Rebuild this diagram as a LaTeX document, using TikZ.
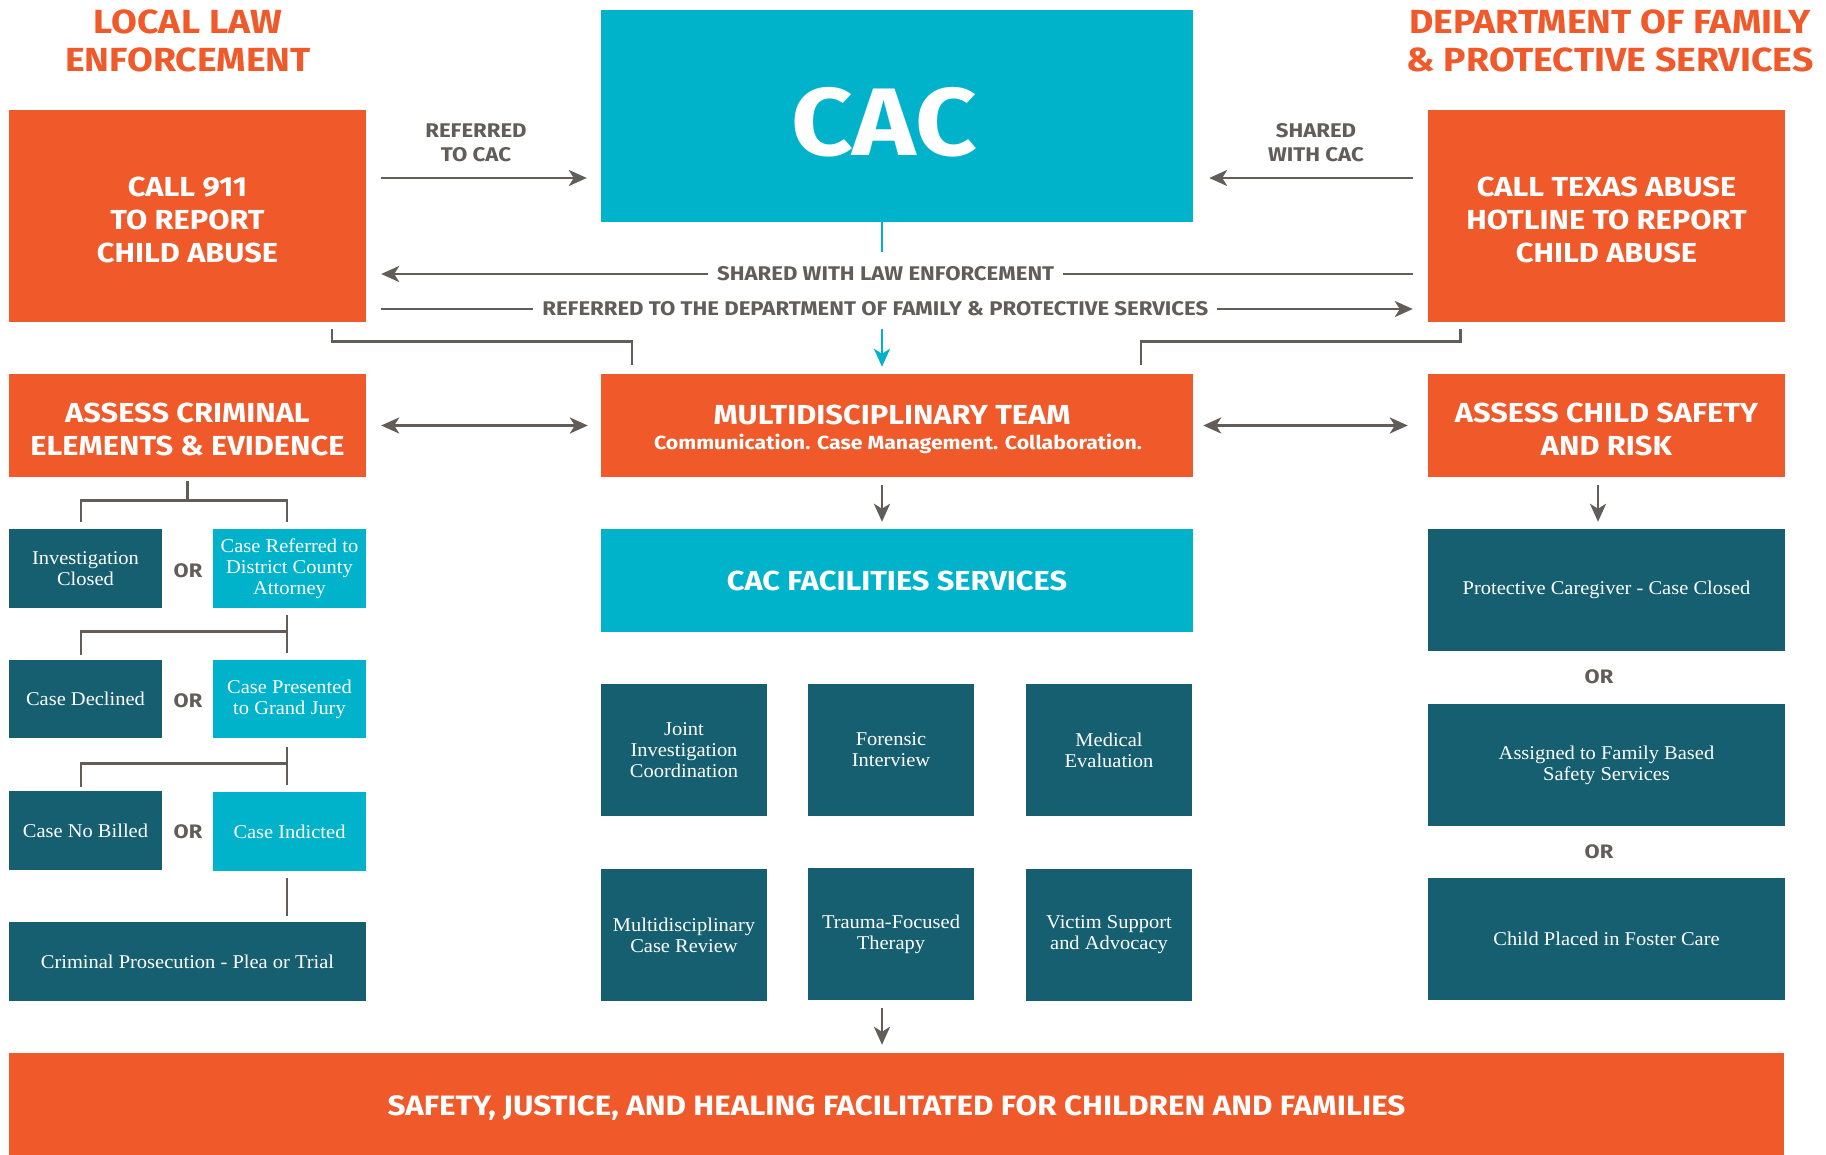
\documentclass[tikz,border=0pt]{standalone}
\usepackage{fontspec}
\usetikzlibrary{arrows.meta,calc}
\newfontfamily\din{Fira Sans}[FakeStretch=1.12]
\newfontfamily\slab{Liberation Serif}[FakeStretch=1.05]
\definecolor{corange}{HTML}{F05A2B}
\definecolor{clight}{HTML}{00B3CB}
\definecolor{cdark}{HTML}{155F70}
\definecolor{cgray}{HTML}{625D58}
\begin{document}
\begin{tikzpicture}[x=1pt,y=-1pt,
  bx/.style={rectangle, inner sep=0pt, text=white, align=center},
  obox/.style={bx, fill=corange, font=\din\bfseries\fontsize{27.5}{33}\selectfont},
  otxt/.style={text=white, align=center, inner sep=0pt, font=\din\bfseries\fontsize{27.5}{33}\selectfont},
  dbox/.style={bx, fill=cdark, font=\slab\fontsize{19.5}{21}\selectfont},
  lbox/.style={bx, fill=clight, font=\slab\fontsize{19.5}{21}\selectfont},
  hdr/.style={text=corange, align=center, inner sep=0pt, font=\din\bfseries\fontsize{33.4}{38}\selectfont},
  lbl/.style={text=cgray, align=center, inner sep=0pt, font=\din\bfseries\fontsize{19.8}{24}\selectfont},
  orlbl/.style={text=cgray, inner sep=0pt, font=\din\bfseries\fontsize{19.5}{21}\selectfont},
  ln/.style={draw=cgray, line width=2.8pt},
  arr/.style={ln, -{Stealth[length=18pt,width=16pt,inset=5pt]}},
  darr/.style={ln, {Stealth[length=18pt,width=16pt,inset=5pt]}-{Stealth[length=18pt,width=16pt,inset=5pt]}},
  tln/.style={draw=clight, line width=2.8pt},
  tarr/.style={tln, -{Stealth[length=18pt,width=16pt,inset=5pt]}},
]
\fill[white] (0,0) rectangle (1826,1155);
\useasboundingbox (0,0) rectangle (1826,1155);

% headers
\node[hdr] (hdL) at (188,40.5) {LOCAL LAW\\ENFORCEMENT};
\node[hdr] (hdR) at (1610,40.5) {DEPARTMENT OF FAMILY\\\& PROTECTIVE SERVICES};

% top row
\node[obox, minimum width=357, minimum height=212] (call) at (187.5,216) {};
\node[otxt] (callT) at (187.5,219.5) {CALL 911\\TO REPORT\\CHILD ABUSE};
\node[bx, fill=clight, minimum width=592, minimum height=212] (cac) at (897,116) {};
\node[text=white, inner sep=0pt, font=\din\bfseries\fontsize{96}{96}\selectfont] (cactext) at (884,122.5) {CAC};
\node[obox, minimum width=357, minimum height=212] (dfps) at (1606.5,216) {};
\node[otxt] (dfpsT) at (1606.5,219.5) {CALL TEXAS ABUSE\\HOTLINE TO REPORT\\CHILD ABUSE};

\node[lbl] (lref) at (476,143) {REFERRED\\TO CAC};
\node[lbl] (lsh) at (1316,143) {SHARED\\WITH CAC};

% second row
\node[obox, minimum width=357, minimum height=103] (crim) at (187.5,425.5) {};
\node[otxt] (crimT) at (187.5,429) {ASSESS CRIMINAL\\ELEMENTS \& EVIDENCE};
\node[obox, minimum width=592, minimum height=103] (mdt) at (897,425.5) {};
\node[otxt] (mdtT) at (892,414.5) {MULTIDISCIPLINARY TEAM};
\node[otxt, font=\din\bfseries\fontsize{19}{22}\selectfont] (mdtS) at (898,444) {Communication. Case Management. Collaboration.};
\node[obox, minimum width=357, minimum height=103] (safety) at (1606.5,425.5) {};
\node[otxt] (safetyT) at (1606.5,429) {ASSESS CHILD SAFETY\\AND RISK};

% left column
\node[dbox, minimum width=153, minimum height=79] (invc) at (85.5,568.5) {Investigation\\Closed};
\node[lbox, minimum width=153, minimum height=79] (caseref) at (289.5,568.5) {Case Referred to\\District County\\Attorney};
\node[dbox, minimum width=153, minimum height=78] (casedecl) at (85.5,699) {Case Declined};
\node[lbox, minimum width=153, minimum height=78] (casepres) at (289.5,699) {Case Presented\\to Grand Jury};
\node[dbox, minimum width=153, minimum height=79] (nobill) at (85.5,830.5) {Case No Billed};
\node[lbox, minimum width=153, minimum height=79] (caseind) at (289.5,831.5) {Case Indicted};
\node[dbox, minimum width=357, minimum height=79] (prosec) at (187.5,961.5) {Criminal Prosecution - Plea or Trial};
\node[orlbl] (or1) at (188,571) {OR};
\node[orlbl] (or2) at (188,701) {OR};
\node[orlbl] (or3) at (188,832) {OR};

% middle column
\node[bx, fill=clight, minimum width=592, minimum height=103, font=\din\bfseries\fontsize{27.5}{33}\selectfont] (fac) at (897,580.5) {CAC FACILITIES SERVICES};
\node[dbox, minimum width=166, minimum height=132] (joint) at (684,750) {Joint\\Investigation\\Coordination};
\node[dbox, minimum width=166, minimum height=132] (forensic) at (891,750) {Forensic\\Interview};
\node[dbox, minimum width=166, minimum height=132] (medical) at (1109,750) {Medical\\Evaluation};
\node[dbox, minimum width=166, minimum height=132] (mdreview) at (684,935) {Multidisciplinary\\Case Review};
\node[dbox, minimum width=166, minimum height=132] (trauma) at (891,934) {Trauma-Focused\\Therapy};
\node[dbox, minimum width=166, minimum height=132] (victim) at (1109,935) {Victim Support\\and Advocacy};

% right column
\node[dbox, minimum width=357, minimum height=122] (protect) at (1606.5,590) {Protective Caregiver - Case Closed};
\node[dbox, minimum width=357, minimum height=122] (assigned) at (1606.5,765) {Assigned to Family Based\\Safety Services};
\node[dbox, minimum width=357, minimum height=122] (foster) at (1606.5,939) {Child Placed in Foster Care};
\node[orlbl] (or4) at (1599,677) {OR};
\node[orlbl] (or5) at (1599,852) {OR};

% bottom
\node[obox, minimum width=1775, minimum height=102] (bottom) at (896.5,1104) {};
\node[otxt, font=\din\bfseries\fontsize{28}{33}\selectfont] (bottomT) at (896.5,1108.5) {SAFETY, JUSTICE, AND HEALING FACILITATED FOR CHILDREN AND FAMILIES};

% connectors top
\draw[arr] ([xshift=15,yshift=38]call.east) -- ([xshift=-14,yshift=-62]cac.west);
\draw[arr] ([xshift=-15,yshift=38]dfps.west) -- ([xshift=16,yshift=-62]cac.east);
\coordinate (stemend) at (882,252);
\draw[tln] ([xshift=-15]cac.south) -- (stemend);
\draw[arr] ([xshift=-15,yshift=-58]dfps.west) -- ([xshift=15,yshift=-58]call.east)
  node[lbl, fill=white, inner xsep=9pt, inner ysep=3pt, pos=0.511] (lsle) {SHARED WITH LAW ENFORCEMENT};
\draw[arr] ([xshift=15,yshift=-93]call.east) -- ([xshift=-15,yshift=-93]dfps.west)
  node[lbl, fill=white, inner xsep=9pt, inner ysep=3pt, pos=0.479] (lrdf) {REFERRED TO THE DEPARTMENT OF FAMILY \& PROTECTIVE SERVICES};
\draw[ln] ([xshift=144.5,yshift=-7]call.south) -- ++(0,12) -| ([xshift=-265,yshift=9]mdt.north);
\draw[ln] ([xshift=-146,yshift=-7]dfps.south) -- ++(0,12) -| ([xshift=244,yshift=9]mdt.north);
\coordinate (tstart) at (882,329);
\draw[tarr] (tstart) -- ([xshift=-15,yshift=7]mdt.north);

% second row arrows
\draw[darr] ([xshift=15]crim.east) -- ([xshift=-13]mdt.west);
\draw[darr] ([xshift=10]mdt.east) -- ([xshift=-20]safety.west);

% left tree
\coordinate (t1) at ([yshift=-23]crim.south);
\draw[ln] ([yshift=-4]crim.south) -- (t1);
\draw[ln] ([xshift=-4.5,yshift=7]invc.north) |- (t1) -| ([xshift=-2.5,yshift=7]caseref.north);
\draw[ln] ([xshift=-2.5,yshift=-7]caseref.south) -- ([xshift=-2.5,yshift=7]casepres.north);
\draw[ln] ([xshift=-2.5,yshift=-23]caseref.south) -| ([xshift=-4.5,yshift=5]casedecl.north);
\draw[ln] ([xshift=-2.5,yshift=-9]casepres.south) -- ([xshift=-2.5,yshift=7]caseind.north);
\draw[ln] ([xshift=-2.5,yshift=-25]casepres.south) -| ([xshift=-4.5,yshift=4]nobill.north);
\draw[ln] ([xshift=-2.5,yshift=-7]caseind.south) -- ([xshift=99.5,yshift=6]prosec.north);

% middle and right arrows
\draw[arr] ([xshift=-15,yshift=-8]mdt.south) -- ([xshift=-15,yshift=7]fac.north);
\draw[arr] ([xshift=-9,yshift=-8]trauma.south) -- ([xshift=-14.5,yshift=8]bottom.north);
\draw[arr] ([xshift=-8.5,yshift=-8]safety.south) -- ([xshift=-8.5,yshift=7]protect.north);
\end{tikzpicture}
\end{document}
